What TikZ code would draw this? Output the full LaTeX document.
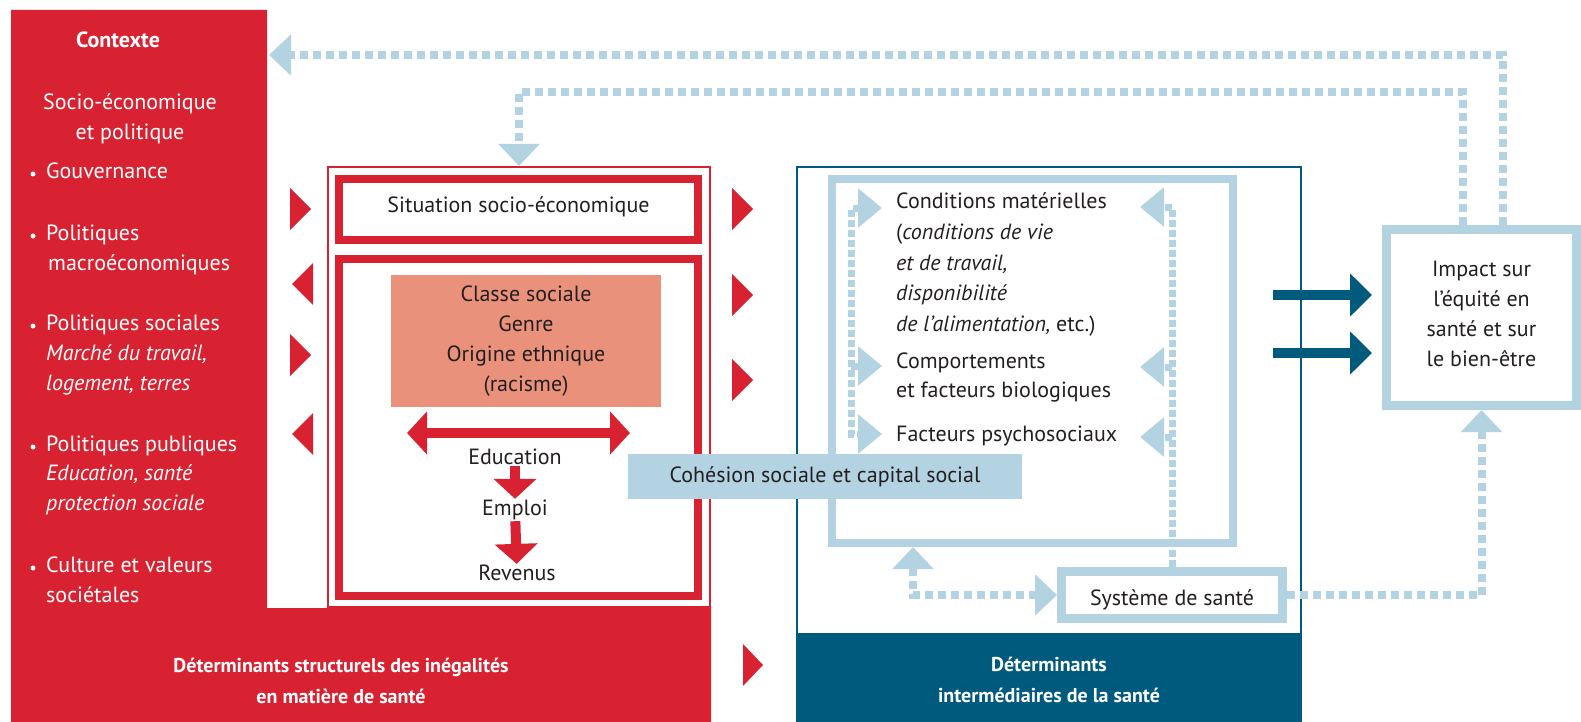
\documentclass[tikz,border=0pt]{standalone}
\usepackage{fontspec}
\setmainfont{PT Sans}
\usetikzlibrary{arrows.meta}

\definecolor{redC}{HTML}{D92231}
\definecolor{salmonC}{HTML}{EA917B}
\definecolor{lblueC}{HTML}{B3D3E3}
\definecolor{dblueC}{HTML}{005A7E}
\definecolor{inkC}{HTML}{231F20}

\tikzset{
  txt/.style={inner sep=1pt, font=\fontsize{22}{30}\selectfont, text=inkC},
  wtxt/.style={txt, text=white},
  btxt/.style={wtxt, font=\bfseries\fontsize{20}{31}\selectfont, align=center},
  fbhead/.tip={Triangle[width=40pt,length=22pt]},
  inhead/.tip={Triangle[width=38pt,length=24pt]},
  redhead/.tip={Triangle[width=42pt,length=20pt]},
  bluehead/.tip={Triangle[width=42pt,length=22pt]},
  fb/.style={lblueC, line width=8pt, dash pattern=on 8pt off 5pt},
  fbin/.style={lblueC, line width=7pt, dash pattern=on 7pt off 3pt},
  redarr/.style={redC, line width=10pt},
  bluearr/.style={dblueC, line width=10pt, -bluehead, shorten >=10pt},
}

\begin{document}
\begin{tikzpicture}[x=1pt,y=-1pt]
\useasboundingbox (0,0) rectangle (1581,722);

% red context column and band, dark band
\fill[redC] (11,10) -- (267,10) -- (267,608) -- (711,608) -- (711,722) -- (11,722) -- cycle;
\fill[dblueC] (796,635) rectangle (1302,722);

% structural side
\node[draw=redC, line width=2pt, minimum width=382pt, minimum height=440pt] (struct) at (519,387) {};
\node[txt, draw=redC, line width=8pt, minimum width=359pt, minimum height=61pt,
      text height=16.5pt, text depth=10.5pt] (sit) at (518.5,209.5) {Situation socio-économique};
\node[draw=redC, line width=8pt, minimum width=359pt, minimum height=337pt] (inner) at (518.5,427.5) {};
\node[txt, fill=salmonC, minimum width=270pt, minimum height=132pt, align=center] (classe) at (526,341)
    {Classe sociale\\Genre\\Origine ethnique\\(racisme)};
\node[txt] (edu) at (515,457) {Education};
\node[txt] (emp) at (515,510) {Emploi};
\node[txt] (rev) at (517,573) {Revenus};

% intermediary side
\node[draw=dblueC, line width=2pt, minimum width=504pt, minimum height=467pt] (interm) at (1049,400.5) {};
\node[draw=lblueC, line width=8pt, minimum width=401pt, minimum height=364pt] (lbox) at (1032.5,361) {};
\node[txt, draw=lblueC, line width=9pt, minimum width=221pt, minimum height=47pt,
      text height=24pt, text depth=4pt] (sys) at (1172,595) {Système de santé};
\node[txt, draw=lblueC, line width=9pt, minimum width=190pt, minimum height=176pt, align=center,
      text depth=8pt] (impact) at (1481.5,317.5)
    {Impact sur\\l’équité en\\santé et sur\\le bien-être};
\node[txt, fill=lblueC, minimum width=394pt, minimum height=45pt] (cohes) at (825,476.5) {Cohésion sociale et capital social};

% context text
\path[wtxt]
    (118, 40) node (ctx)    {\bfseries Contexte}
    (130,104) node (soc1)   {Socio-économique}
    ++(0, 30) node (soc2)   {et politique};
\path[wtxt, anchor=mid west]
    ( 45,176) node (gouv)   {Gouvernance}
    ( 45,238) node (macro1) {Politiques}
    ++(2, 30) node (macro2) {macroéconomiques}
    ( 45,328) node (soc3)   {Politiques sociales}
    ++(0, 30) node (soc4)   {\itshape Marché du travail,}
    ++(0, 30) node (soc5)   {\itshape logement, terres}
    ( 45,449) node (pub1)   {Politiques publiques}
    ++(0, 29) node (pub2)   {\itshape Education, santé}
    ++(0, 30) node (pub3)   {\itshape protection sociale}
    ( 45,570) node (cult1)  {Culture et valeurs}
    ++(0, 30) node (cult2)  {sociétales};
\fill[white]
    (33,174) circle (2.5pt)
    (33,236) circle (2.5pt)
    (33,326) circle (2.5pt)
    (33,447) circle (2.5pt)
    (33,568) circle (2.5pt);

% intermediary text
\path[txt, anchor=mid west]
    (895,206) node (cond1)  {Conditions matérielles}
    (895,237) node (cond2)  {(\textit{conditions de vie}}
    (895,268) node (cond3)  {\textit{et de travail,}}
    (895,298) node (cond4)  {\textit{disponibilité}}
    (895,329) node (cond5)  {\textit{de l’alimentation,} etc.)}
    (895,366) node (comp1)  {Comportements}
    ++(0, 29) node (comp2)  {et facteurs biologiques}
    (895,439) node (psy)    {Facteurs psychosociaux};

% band labels
\node[btxt] (strlab) at (341,680.5) {Déterminants structurels des inégalités\\en matière de santé};
\node[btxt] (intlab) at (1049,679.5) {Déterminants\\intermédiaires de la santé};

% red triangles
\fill[redC]
    (290,188) -- ++( 21, 21) -- ++(-21, 21) -- cycle
    (313,263) -- ++(-21, 21) -- ++( 21, 21) -- cycle
    (290,334) -- ++( 21, 21) -- ++(-21, 21) -- cycle
    (313,413) -- ++(-21, 21) -- ++( 21, 21) -- cycle
    (732,188) -- ++( 21, 21) -- ++(-21, 21) -- cycle
    (732,274) -- ++( 21, 21) -- ++(-21, 21) -- cycle
    (732,359) -- ++( 21, 21) -- ++(-21, 21) -- cycle
    (743,644) -- ++( 20, 21) -- ++(-20, 21) -- cycle;

% red arrows
\coordinate (dl) at (407,433);
\coordinate (dr) at (630,433);
\draw[redarr, redhead-redhead] (dl) -- (dr);
\draw[redarr, -redhead] (edu) -- (emp);
\draw[redarr, -redhead] (emp) -- (rev);

% dark blue arrows
\coordinate (ba1) at (1273,295);
\coordinate (ba2) at (1273,353);
\draw[bluearr] (ba1) -- (impact.west |- ba1);
\draw[bluearr] (ba2) -- (impact.west |- ba2);

% feedback loops
\coordinate (ctxR) at (269,55);
\draw[fb, -fbhead] ([xshift=21pt]impact.north) |- (ctxR);
\draw[fb, -fbhead] ([xshift=-19pt]impact.north) -- ++(0,-133) -| (struct.north);
\draw[fb, -fbhead] (sys.east) -| (impact.south);
\draw[fb, fbhead-fbhead] ([xshift=-119.5pt]lbox.south) |- (sys.west);

% inner dotted lines
\coordinate (lt) at (882,208);
\coordinate (lm) at (882,366);
\coordinate (lb) at (882,434);
\coordinate (rt) at (1140,207);
\coordinate (rm) at (1140,367);
\coordinate (rb) at (1140,437);
\draw[fbin, inhead-inhead] (lt) -- ++(-31,0) |- (lb);
\draw[fbin, -inhead] (lm -| 851,0) -- (lm);
\draw[fbin, -inhead] (sys.north) |- (rt);
\draw[fbin, -inhead] (sys.north |- rm) -- (rm);
\draw[fbin, -inhead] (sys.north |- rb) -- (rb);
\end{tikzpicture}
\end{document}
